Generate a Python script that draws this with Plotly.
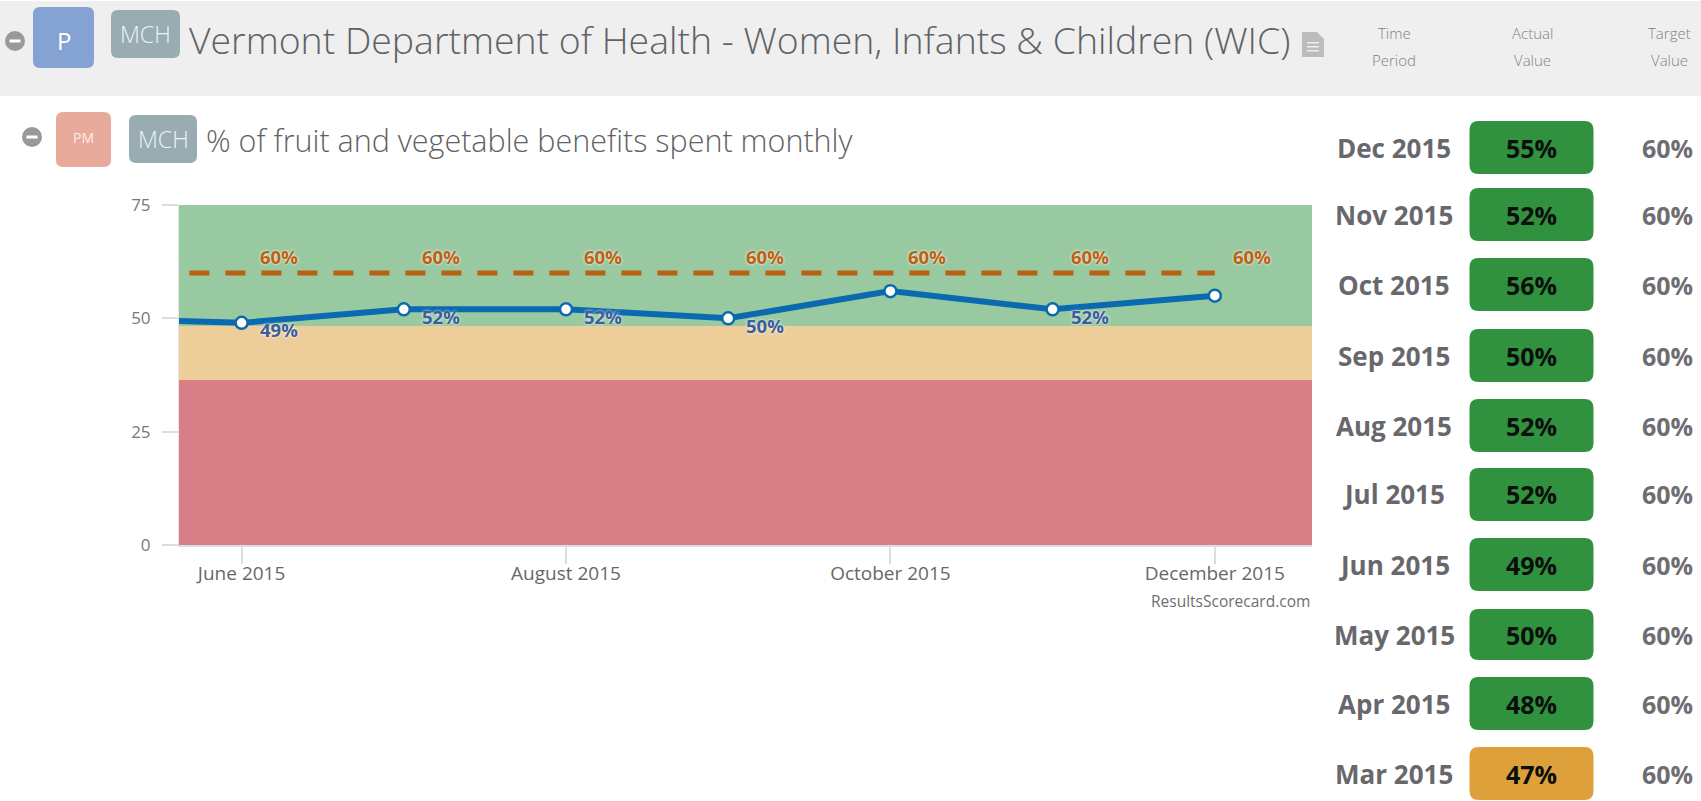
import plotly.graph_objects as go

# ---- data ----
chart_months = ["May 2015", "June 2015", "July 2015", "August 2015", "September 2015",
                "October 2015", "November 2015", "December 2015"]
actual_series = [50, 49, 52, 52, 50, 56, 52, 55]
target_series = [60, 60, 60, 60, 60, 60, 60, 60]
actual_labels = [None, "49%", "52%", "52%", "50%", None, "52%", None]
target_labels = [None, "60%", "60%", "60%", "60%", "60%", "60%", "60%"]
axis_months = ["June 2015", "August 2015", "October 2015", "December 2015"]
band_edges = [0, 36.4, 48.3, 75]
band_colors = ["#d87e87", "#edce9a", "#98c9a1"]
y_ticks = [0, 25, 50, 75]

table_periods = ["Dec 2015", "Nov 2015", "Oct 2015", "Sep 2015", "Aug 2015",
                 "Jul 2015", "Jun 2015", "May 2015", "Apr 2015", "Mar 2015"]
table_actual = [55, 52, 56, 50, 52, 52, 49, 50, 48, 47]
table_target = [60, 60, 60, 60, 60, 60, 60, 60, 60, 60]
table_status = ["g", "g", "g", "g", "g", "g", "g", "g", "g", "a"]

# ---- layout constants ----
W, H = 1701, 801
PLOT_L, PLOT_R, PLOT_T, PLOT_B = 179, 1312, 205, 545
ROW_TOPS = [121, 188, 258, 329, 399, 468, 538, 609, 677, 747]
ROW_BOTS = [174, 241, 311, 382, 452, 521, 591, 660, 730, 800]
FONT = "Open Sans"
STATUS_COLORS = {"g": "#30913f", "a": "#dda03a"}

def px(x):
    return x / W

def py(y):
    return 1 - y / H

shapes = []
annotations = []

def rrect(x0, y0, x1, y1, r, color):
    a, b, c, d = px(x0), py(y0), px(x1), py(y1)
    rx, ry = r / W, r / H
    path = (f"M{a+rx},{b} L{c-rx},{b} Q{c},{b} {c},{b-ry} L{c},{d+ry} Q{c},{d} {c-rx},{d} "
            f"L{a+rx},{d} Q{a},{d} {a},{d+ry} L{a},{b-ry} Q{a},{b} {a+rx},{b} Z")
    shapes.append(dict(type="path", path=path, xref="paper", yref="paper",
                       fillcolor=color, line=dict(width=0), layer="above"))

def rect(x0, y0, x1, y1, color, layer="below"):
    shapes.append(dict(type="rect", xref="paper", yref="paper", x0=px(x0), x1=px(x1),
                       y0=py(y0), y1=py(y1), fillcolor=color, line=dict(width=0), layer=layer))

def circle(cx, cy, r, color):
    shapes.append(dict(type="circle", xref="paper", yref="paper", x0=px(cx-r), x1=px(cx+r),
                       y0=py(cy+r), y1=py(cy-r), fillcolor=color, line=dict(width=0), layer="above"))

def label(x, y, text, size, color, anchor="center", bold=False, family=FONT, weight=None):
    t = f"<b>{text}</b>" if bold else text
    f = dict(family=family, size=size, color=color)
    if weight:
        f["weight"] = weight
    annotations.append(dict(xref="paper", yref="paper", x=px(x), y=py(y), text=t, showarrow=False,
                            xanchor=anchor, yanchor="middle", borderpad=0, font=f))

# header band
rect(0, 1, W, 96, "#efefef")
for cx, cy in [(15, 41), (32, 137)]:
    circle(cx, cy, 10, "#999999")
    rect(cx-5.5, cy-1.5, cx+5.5, cy+1.5, "#ffffff", layer="above")
rrect(33, 7, 94, 68, 7, "#84a3d3")
rrect(111, 10, 180, 58, 7, "#98acb2")
rrect(56, 112, 111, 167, 7, "#e8ab9b")
rrect(129, 115, 197, 163, 7, "#98acb2")
label(64, 40, "P", 24, "#ffffff")
label(145.5, 34, "MCH", 23, "#eef3f4", weight=300)
label(83.5, 138, "PM", 14, "#fbeee9")
label(163, 139, "MCH", 23, "#eef3f4", weight=300)
label(188, 39, "Vermont Department of Health - Women, Infants &amp; Children (WIC)", 37.4, "#5f6266", "left", weight=300)
label(205, 140, "% of fruit and vegetable benefits spent monthly", 30.5, "#5f6266", "left", weight=300)

# document icon
rect(1302, 32, 1324, 57, "#bcbcbc", layer="above")
shapes.append(dict(type="path", xref="paper", yref="paper", layer="above", fillcolor="#efefef",
                   line=dict(width=0),
                   path=f"M{px(1316)},{py(31)} L{px(1325)},{py(31)} L{px(1325)},{py(40)} Z"))
for ly in (42, 46, 50):
    rect(1307, ly, 1319, ly+1.5, "#efefef", layer="above")

# table header
for cx, l1, l2 in [(1394, "Time", "Period"), (1532, "Actual", "Value"), (1669, "Target", "Value")]:
    label(cx, 33, l1, 15, "#7f8285", weight=300)
    label(cx, 60, l2, 15, "#7f8285", weight=300)

# table rows
for i, period in enumerate(table_periods):
    t, b = ROW_TOPS[i], ROW_BOTS[i]
    cy = (t + b) / 2
    rrect(1469.5, t, 1593.5, b, 9, STATUS_COLORS[table_status[i]])
    label(1394, cy, period, 26, "#68686c", bold=True)
    label(1531.5, cy, f"{table_actual[i]}%", 25, "#0b0f0b", bold=True)
    label(1667, cy, f"{table_target[i]}%", 25, "#6e6e72", bold=True)

# footer credit
label(PLOT_R - 1, 601, "ResultsScorecard.com", 15.5, "#6d6f72", "right")

# chart bands
for i, color in enumerate(band_colors):
    shapes.append(dict(type="rect", xref="paper", yref="y", x0=px(PLOT_L), x1=px(PLOT_R),
                       y0=band_edges[i], y1=band_edges[i+1], fillcolor=color,
                       line=dict(width=0), layer="below"))

xs = list(range(len(chart_months)))

# data labels
for x, txt, val in zip(xs, target_labels, target_series):
    if txt:
        annotations.append(dict(x=x, y=val, text=f"<b>{txt}</b>", showarrow=False, xshift=37, yshift=17,
                                font=dict(family=FONT, size=18.5, color="#c05f10", shadow="0 0 3px #ffffff")))
for x, txt, val in zip(xs, actual_labels, actual_series):
    if txt:
        annotations.append(dict(x=x, y=val, text=f"<b>{txt}</b>", showarrow=False, xshift=37, yshift=-7,
                                font=dict(family=FONT, size=18.5, color="#3a5d9c", shadow="0 0 3px #ffffff")))

fig = go.Figure()
fig.add_trace(go.Scatter(x=xs, y=target_series, mode="lines", name="Target",
                         line=dict(color="#bb6011", width=5, dash="0px,2px,20px,14px"), hoverinfo="skip"))
fig.add_trace(go.Scatter(x=xs, y=actual_series, mode="lines+markers", name="Actual",
                         line=dict(color="#0b69b0", width=6),
                         marker=dict(size=12, color="#ffffff", line=dict(color="#0b69b0", width=2.5))))

spacing = 162.2
fig.update_layout(
    width=W, height=H, margin=dict(l=0, r=0, t=0, b=0),
    paper_bgcolor="#ffffff", plot_bgcolor="rgba(0,0,0,0)", showlegend=False,
    shapes=shapes, annotations=annotations,
    xaxis=dict(domain=[px(PLOT_L), px(PLOT_R)], automargin=False,
               range=[1 + (PLOT_L - 241.6) / spacing, 1 + (PLOT_R - 241.6) / spacing],
               tickmode="array", tickvals=[chart_months.index(m) for m in axis_months], ticktext=axis_months,
               ticks="outside", ticklen=17, tickcolor="#dddddd", tickwidth=1.5, ticklabelstandoff=-7,
               showgrid=False, zeroline=False, showline=True, linecolor="#dddddd", linewidth=2,
               tickfont=dict(family=FONT, size=19, color="#66686b")),
    yaxis=dict(domain=[py(PLOT_B), py(PLOT_T)], range=[0, 75], automargin=False,
               tickmode="array", tickvals=y_ticks, ticklabelstandoff=8,
               ticks="outside", ticklen=16, tickcolor="#dddddd", tickwidth=2,
               showgrid=False, zeroline=False, showline=True, linecolor="#e6e6e6", linewidth=1,
               tickfont=dict(family=FONT, size=17, color="#77797c")),
)

fig.write_html("out.html", config={"displayModeBar": False},
               post_script="document.body.style.margin='0';document.body.style.overflow='hidden';")
